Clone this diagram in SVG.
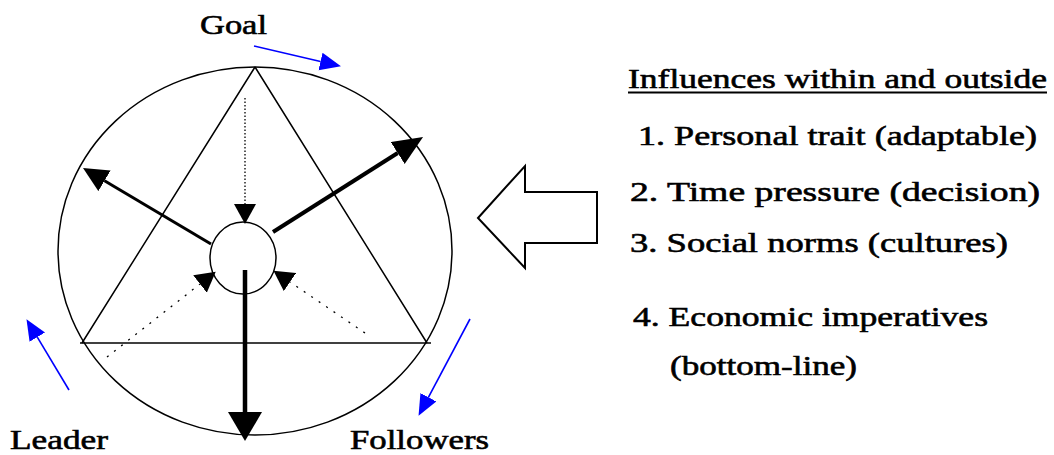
<svg xmlns="http://www.w3.org/2000/svg" width="1054" height="455" viewBox="0 0 1054 455">
<style>
.ln{fill:none;stroke:#000;stroke-width:1.5}
.blue{stroke:#0000ff;stroke-width:1.6;fill:none}
.dot{stroke:#000;stroke-width:1.3;fill:none}
</style>
<defs>
<marker id="hBig" markerUnits="userSpaceOnUse" markerWidth="30" markerHeight="34" refX="0" refY="17" orient="auto"><path d="M0,0 L29,17 L0,34 z" fill="#000"/></marker>
<marker id="hMid" markerUnits="userSpaceOnUse" markerWidth="31" markerHeight="27" refX="0" refY="13" orient="auto"><path d="M0,0 L30,13 L0,26 z" fill="#000"/></marker>
<marker id="hSm" markerUnits="userSpaceOnUse" markerWidth="26" markerHeight="25" refX="0" refY="12" orient="auto"><path d="M0,0 L25,12 L0,24 z" fill="#000"/></marker>
<marker id="hDot" markerUnits="userSpaceOnUse" markerWidth="22" markerHeight="23" refX="0" refY="11" orient="auto"><path d="M0,0 L20,11 L0,22 z" fill="#000"/></marker>
<marker id="hBlue" markerUnits="userSpaceOnUse" markerWidth="22" markerHeight="19" refX="0" refY="9" orient="auto"><path d="M0,0 L21,9 L0,18 z" fill="#0000ff"/></marker>
</defs>

<g id="outer-circle"><ellipse class="ln" cx="255" cy="251" rx="197" ry="184"/></g>
<g id="triangle">
<path class="ln" d="M255,67 L82,343 M255,67 L427,343"/>
<line class="ln" x1="80" y1="343" x2="431" y2="343"/>
</g>
<g id="center"><ellipse cx="243" cy="258" rx="33" ry="36" fill="#fff" stroke="#000" stroke-width="1.5"/></g>

<g id="connectors">
<line x1="245" y1="270" x2="245" y2="412" stroke="#000" stroke-width="4.5" marker-end="url(#hBig)"/>
<line x1="211" y1="244" x2="104.5" y2="180.8" stroke="#000" stroke-width="3" marker-end="url(#hSm)"/>
<line x1="273" y1="232" x2="397.7" y2="153" stroke="#000" stroke-width="4" marker-end="url(#hMid)"/>
<line class="dot" x1="245" y1="98" x2="245" y2="204" stroke-dasharray="1.5,2" marker-end="url(#hDot)"/>
<line class="dot" x1="107" y1="357" x2="200" y2="284" stroke-dasharray="2,7" marker-end="url(#hDot)"/>
<line class="dot" x1="365" y1="333" x2="290" y2="282" stroke-dasharray="2,7" marker-end="url(#hDot)"/>
<line class="blue" x1="254" y1="46" x2="320.5" y2="61.5" marker-end="url(#hBlue)"/>
<line class="blue" x1="69" y1="390" x2="37.3" y2="337.2" marker-end="url(#hBlue)"/>
<line class="blue" x1="470" y1="319" x2="428.4" y2="397.3" marker-end="url(#hBlue)"/>
</g>

<g id="influence-arrow"><polygon points="478,218 525,166 525,192 597,192 597,243 525,243 525,268" fill="#fff" stroke="#000" stroke-width="2"/></g>

<g id="labels">
<text x="200" y="34" font-family="Liberation Serif" font-size="28" fill="#000" stroke="#000" stroke-width="0.6" textLength="67" lengthAdjust="spacingAndGlyphs">Goal</text>
<text x="10" y="449" font-family="Liberation Serif" font-size="28" fill="#000" stroke="#000" stroke-width="0.6" textLength="98" lengthAdjust="spacingAndGlyphs">Leader</text>
<text x="350" y="449" font-family="Liberation Serif" font-size="28" fill="#000" stroke="#000" stroke-width="0.6" textLength="139" lengthAdjust="spacingAndGlyphs">Followers</text>
</g>

<g id="influences">
<text x="628" y="88" font-family="Liberation Serif" font-size="28" fill="#000" stroke="#000" stroke-width="0.6" textLength="419" lengthAdjust="spacingAndGlyphs">Influences within and outside</text>
<line x1="628" y1="92.5" x2="1047" y2="92.5" stroke="#000" stroke-width="2"/>
<text x="638" y="145" font-family="Liberation Serif" font-size="28" fill="#000" stroke="#000" stroke-width="0.6" textLength="399" lengthAdjust="spacingAndGlyphs">1. Personal trait (adaptable)</text>
<text x="630" y="201" font-family="Liberation Serif" font-size="28" fill="#000" stroke="#000" stroke-width="0.6" textLength="410" lengthAdjust="spacingAndGlyphs">2. Time pressure (decision)</text>
<text x="630" y="252" font-family="Liberation Serif" font-size="28" fill="#000" stroke="#000" stroke-width="0.6" textLength="378" lengthAdjust="spacingAndGlyphs">3. Social norms (cultures)</text>
<text x="633" y="326" font-family="Liberation Serif" font-size="28" fill="#000" stroke="#000" stroke-width="0.6" textLength="355" lengthAdjust="spacingAndGlyphs">4. Economic imperatives</text>
<text x="670" y="375" font-family="Liberation Serif" font-size="28" fill="#000" stroke="#000" stroke-width="0.6" textLength="187" lengthAdjust="spacingAndGlyphs">(bottom-line)</text>
</g>
</svg>
